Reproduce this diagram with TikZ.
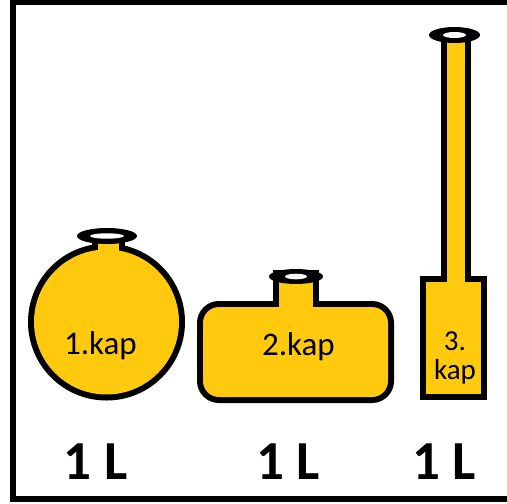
\documentclass[tikz,border=0pt]{standalone}
\usepackage{fontspec}
\setmainfont{Carlito}
\usepackage{tikz}

\definecolor{gold}{HTML}{FFC90E}

\tikzset{
  vessel/.style={draw=black,line width=12pt},
  kaptext/.style={inner sep=0pt,anchor=base,text=black,font=\fontsize{33}{33}\selectfont},
  volumetext/.style={inner sep=0pt,anchor=base,text=black,font=\fontsize{55}{60}\selectfont\bfseries}
}

\begin{document}
\begin{tikzpicture}[x=1pt,y=-1pt]
\useasboundingbox (0,0) rectangle (507,504);
% frame, open to the right:
\path[draw=black,line width=6pt] (515,2) -- (12.5,2) -- (12.5,499) -- (515,499);
% round flask:
\path[vessel] (106.5,322) circle[radius=72.5];
\path[vessel] (98,236) rectangle (119,290);
\path[fill=gold] (106.5,322) circle[radius=72.5];
\path[fill=gold] (98,236) rectangle (119,290);
\path[fill=black] (107,236) ellipse[x radius=30,y radius=8];
\path[fill=white] (107,236) ellipse[x radius=17,y radius=2.7];
% flat flask:
\path[vessel,rounded corners=16pt] (203,307) rectangle (388,397);
\path[vessel] (279,276) rectangle (313,320);
\path[fill=gold,rounded corners=16pt] (203,307) rectangle (388,397);
\path[fill=gold] (279,276) rectangle (313,320);
\path[fill=black] (296,276.5) ellipse[x radius=27,y radius=7.5];
\path[fill=white] (296,276.5) ellipse[x radius=11,y radius=2.8];
% tall flask:
\path[vessel] (426,282) rectangle (481,394);
\path[vessel] (446.5,35) rectangle (464.5,290);
\path[fill=gold] (426,282) rectangle (481,394);
\path[fill=gold] (446.5,35) rectangle (464.5,290);
\path[fill=black] (454.5,35) ellipse[x radius=25.5,y radius=8];
\path[fill=white] (454.5,35) ellipse[x radius=11.5,y radius=3];
% texts:
\node[kaptext] (kapone) at (100.5,354) {1.kap};
\node[kaptext] (kaptwo) at (298.5,355) {2.kap};
\node[kaptext,align=center,font=\fontsize{29}{29}\selectfont] (kapthree) at (455,379) {3.\\kap};
\node[volumetext] (volone) at (95.5,479) {1 L};
\node[volumetext] (voltwo) at (288,479) {1 L};
\node[volumetext] (volthree) at (444,479) {1 L};
\end{tikzpicture}
\end{document}
